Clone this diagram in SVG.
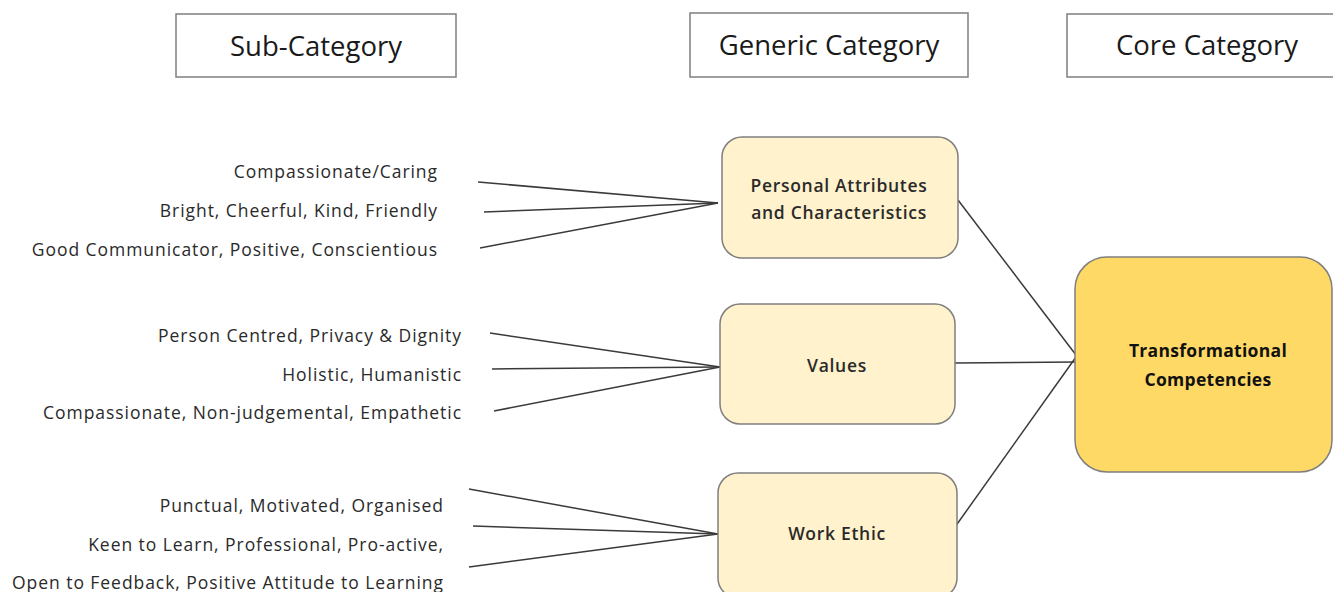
<svg xmlns="http://www.w3.org/2000/svg" width="1333" height="592" viewBox="0 0 1333 592">
<style>
.hdr{fill:#fff;stroke:#7f7f7f;stroke-width:1.5}
.hdrt{font-family:"Open Sans","Liberation Sans",sans-serif;font-size:27.5px;fill:#1a1a1a;text-anchor:middle}
.gen{fill:#FFF2CC;stroke:#7f7f7f;stroke-width:1.5}
.core{fill:#FFD966;stroke:#7f7f7f;stroke-width:1.5}
.bt{font-family:"Open Sans","Liberation Sans",sans-serif;font-size:17.5px;font-weight:600;letter-spacing:0.7px;fill:#2a2a2a;text-anchor:middle}
.cbt{font-family:"Open Sans","Liberation Sans",sans-serif;font-size:17.5px;font-weight:bold;letter-spacing:0.3px;fill:#111;text-anchor:middle}
.sub{font-family:"Open Sans","Liberation Sans",sans-serif;font-size:17.5px;letter-spacing:0.95px;fill:#2a2a2a;text-anchor:end}
.ln{stroke:#3a3a3a;stroke-width:1.5;fill:none}
</style>
<rect width="1333" height="592" fill="#fff"/>
<g id="hdr-sub"><rect class="hdr" x="176" y="14" width="280" height="63"/><text class="hdrt" x="316" y="56">Sub-Category</text></g>
<g id="hdr-generic"><rect class="hdr" x="690" y="13" width="278" height="64"/><text class="hdrt" x="829" y="55">Generic Category</text></g>
<g id="hdr-core"><rect class="hdr" x="1067" y="14" width="275" height="63"/><text class="hdrt" x="1207" y="55">Core Category</text></g>
<g id="connectors">
<line class="ln" x1="478" y1="182" x2="718" y2="203"/>
<line class="ln" x1="484" y1="212" x2="718" y2="203"/>
<line class="ln" x1="480" y1="248" x2="718" y2="203"/>
<line class="ln" x1="490" y1="333" x2="720" y2="367"/>
<line class="ln" x1="492" y1="369" x2="720" y2="367"/>
<line class="ln" x1="494" y1="411" x2="720" y2="367"/>
<line class="ln" x1="469" y1="489" x2="718" y2="534"/>
<line class="ln" x1="473" y1="526" x2="718" y2="534"/>
<line class="ln" x1="469" y1="567" x2="718" y2="534"/>
<line class="ln" x1="958" y1="200" x2="1076" y2="355"/>
<line class="ln" x1="955" y1="363" x2="1076" y2="362"/>
<line class="ln" x1="955" y1="527" x2="1076" y2="357"/>
</g>
<g id="sub-personal">
<text class="sub" x="438" y="178">Compassionate/Caring</text>
<text class="sub" x="438" y="217">Bright, Cheerful, Kind, Friendly</text>
<text class="sub" x="438" y="256">Good Communicator, Positive, Conscientious</text>
</g>
<g id="sub-values">
<text class="sub" x="462" y="342">Person Centred, Privacy &amp; Dignity</text>
<text class="sub" x="462" y="381">Holistic, Humanistic</text>
<text class="sub" x="462" y="419">Compassionate, Non-judgemental, Empathetic</text>
</g>
<g id="sub-work">
<text class="sub" x="444" y="512">Punctual, Motivated, Organised</text>
<text class="sub" x="444" y="551">Keen to Learn, Professional, Pro-active,</text>
<text class="sub" x="444" y="589">Open to Feedback, Positive Attitude to Learning</text>
</g>
<g id="node-personal"><rect class="gen" x="722" y="137" width="236" height="121" rx="20"/><text class="bt" x="839" y="192">Personal Attributes</text><text class="bt" x="839" y="219">and Characteristics</text></g>
<g id="node-values"><rect class="gen" x="720" y="304" width="235" height="120" rx="20"/><text class="bt" x="837" y="372">Values</text></g>
<g id="node-work"><rect class="gen" x="718" y="473" width="239" height="125" rx="20"/><text class="bt" x="837" y="540">Work Ethic</text></g>
<g id="node-core"><rect class="core" x="1075" y="257" width="257" height="215" rx="32"/><text class="cbt" x="1208" y="357">Transformational</text><text class="cbt" x="1208" y="386">Competencies</text></g>
</svg>
